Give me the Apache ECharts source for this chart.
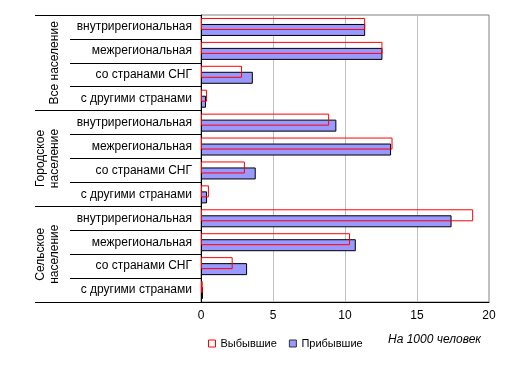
<!DOCTYPE html>
<html><head><meta charset="utf-8">
<script src="https://cdn.jsdelivr.net/npm/echarts@6/dist/echarts.min.js"></script>
<style>html,body{margin:0;padding:0;background:#fff}#c{width:512px;height:372px}</style>
</head><body><div id="c"></div>
<script>
var categories = ['внутрирегиональная','межрегиональная','со странами СНГ','с другими странами',
                  'внутрирегиональная','межрегиональная','со странами СНГ','с другими странами',
                  'внутрирегиональная','межрегиональная','со странами СНГ','с другими странами'];
var groups = ['Все население','Городское\nнаселение','Сельское\nнаселение'];
var departed = [11.4, 12.6, 2.85, 0.42, 8.9, 13.3, 3.05, 0.55, 18.9, 10.35, 2.2, 0.12];
var arrived  = [11.4, 12.6, 3.6, 0.35, 9.4, 13.2, 3.8, 0.42, 17.4, 10.75, 3.2, 0.14];
var xTicks = {min: 0, max: 20, interval: 5};
var font = 'Liberation Sans, Arial, sans-serif';

var chart = echarts.init(document.getElementById('c'), null, {renderer: 'canvas'});
chart.setOption({
  animation: false,
  textStyle: {fontFamily: font},
  grid: {left: 201, right: 23, top: 15, bottom: 70, show: true, borderColor: '#808080', borderWidth: 1, containLabel: false},
  xAxis: {
    type: 'value', min: xTicks.min, max: xTicks.max, interval: xTicks.interval,
    axisLine: {show: true, lineStyle: {color: '#000', width: 1}},
    axisTick: {show: false},
    axisLabel: {color: '#000', fontSize: 12, margin: 8, fontFamily: font},
    splitLine: {show: true, lineStyle: {color: '#c0c0c0', width: 1}}
  },
  yAxis: [{
    type: 'category', data: categories, inverse: true, position: 'left',
    axisLine: {show: true, lineStyle: {color: '#000', width: 1}},
    axisTick: {show: true, interval: 0, length: 131, lineStyle: {color: '#000', width: 1}},
    axisLabel: {color: '#000', fontSize: 12, margin: 9, interval: 0, fontFamily: font}
  }, {
    type: 'category', data: groups, inverse: true, position: 'left', offset: 0,
    axisLine: {show: false},
    axisTick: {show: true, interval: 0, length: 166, lineStyle: {color: '#000', width: 1}},
    axisLabel: {color: '#000', fontSize: 12, margin: 139, rotate: 90, interval: 0, hideOverlap: false, lineHeight: 14, fontFamily: font}
  }],
  legend: {
    left: 203, top: 333, itemWidth: 7, itemHeight: 7, itemGap: 12,
    textStyle: {color: '#000', fontSize: 11, fontFamily: font},
    data: [
      {name: 'Выбывшие', icon: 'rect', itemStyle: {color: '#fff', borderColor: '#ff0000', borderWidth: 1}},
      {name: 'Прибывшие', icon: 'rect', itemStyle: {color: '#9999ff', borderColor: '#333', borderWidth: 1}}
    ]
  },
  graphic: [{
    type: 'text', left: 388, top: 334,
    style: {text: 'На 1000 человек', font: 'italic 12px ' + font, fill: '#000'}
  }],
  series: [{
    name: 'Выбывшие', type: 'bar', data: departed, barWidth: 12, barGap: '-50%', z: 5,
    itemStyle: {color: 'rgba(0,0,0,0)', borderColor: '#ff0000', borderWidth: 1}
  }, {
    name: 'Прибывшие', type: 'bar', data: arrived, barWidth: 12, barGap: '-50%', z: 2,
    itemStyle: {color: '#9999ff', borderColor: '#000', borderWidth: 1}
  }]
});
</script></body></html>
